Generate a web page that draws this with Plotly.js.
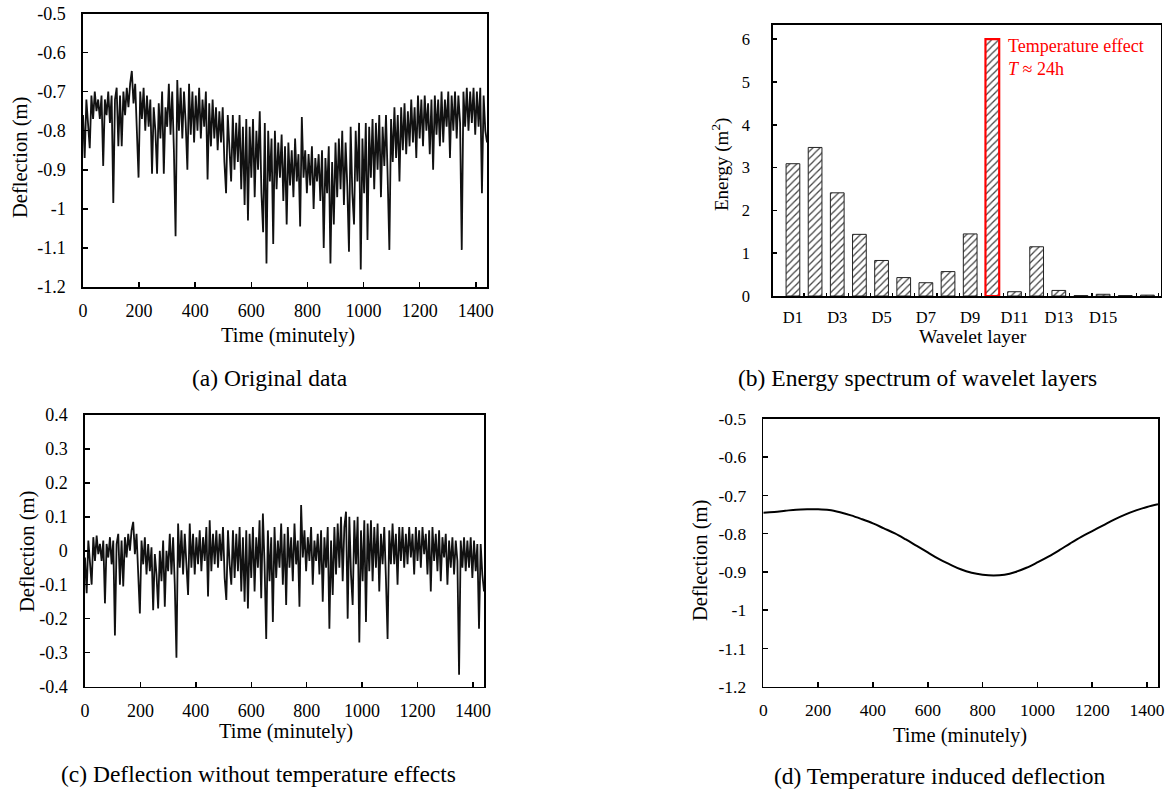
<!DOCTYPE html>
<html><head><meta charset="utf-8">
<script src="https://cdn.plot.ly/plotly-3.0.1.min.js"></script>
<style>html,body{margin:0;padding:0;background:#fff;}#chart{width:1172px;height:792px;}</style>
</head><body><div id="chart"></div>
<script>
// ---------- data ----------
const SAMPLE_STEP = 6; // minutes between plotted samples

// (a) original deflection (m), one value every SAMPLE_STEP minutes from 0 to 1440
const deflectionOriginal = [
-0.76,-0.87,-0.72,-0.78,-0.845,-0.71,-0.77,-0.70,-0.75,-0.72,
-0.77,-0.71,-0.89,-0.72,-0.76,-0.70,-0.78,-0.71,-0.985,-0.72,
-0.69,-0.84,-0.71,-0.84,-0.70,-0.76,-0.69,-0.74,-0.68,-0.647,
-0.73,-0.68,-0.78,-0.92,-0.70,-0.77,-0.69,-0.80,-0.71,-0.79,
-0.72,-0.91,-0.74,-0.80,-0.91,-0.73,-0.82,-0.70,-0.91,-0.74,
-0.79,-0.68,-0.81,-0.70,-0.85,-1.07,-0.67,-0.80,-0.69,-0.82,
-0.70,-0.78,-0.90,-0.68,-0.81,-0.70,-0.83,-0.71,-0.80,-0.69,
-0.82,-0.72,-0.79,-0.70,-0.925,-0.73,-0.84,-0.72,-0.82,-0.74,
-0.85,-0.75,-0.83,-0.74,-0.88,-0.96,-0.76,-0.86,-0.93,-0.76,
-0.90,-0.78,-0.88,-0.76,-0.95,-0.79,-0.99,-0.77,-1.03,-0.79,
-0.92,-0.77,-0.97,-0.80,-0.90,-0.75,-0.96,-1.06,-0.78,-1.14,
-0.80,-0.93,-0.82,-1.09,-0.80,-0.95,-0.83,-0.92,-0.81,-0.98,
-0.84,-1.04,-0.83,-0.94,-0.85,-0.97,-0.82,-0.93,-0.86,-1.045,
-0.765,-0.92,-0.85,-0.96,-0.86,-0.94,-0.84,-1.00,-0.87,-0.93,
-0.86,-0.98,-0.85,-1.10,-0.87,-0.96,-0.84,-1.14,-0.88,-1.04,
-0.83,-0.97,-0.82,-0.95,-0.80,-0.99,-0.83,-0.94,-1.11,-0.79,
-0.96,-1.04,-0.80,-0.93,-0.78,-1.155,-0.82,-0.96,-0.78,-1.08,
-0.79,-0.92,-0.77,-0.95,-0.78,-0.90,-0.76,-0.97,-0.79,-0.89,
-0.76,-0.92,-1.105,-0.77,-0.88,-0.74,-0.87,-0.76,-0.93,-0.74,
-0.85,-0.73,-0.86,-0.75,-0.84,-0.72,-0.83,-0.74,-0.87,-0.71,
-0.82,-0.72,-0.84,-0.71,-0.80,-0.73,-0.86,-0.72,-0.90,-0.71,
-0.81,-0.72,-0.84,-0.70,-0.83,-0.72,-0.79,-0.70,-0.87,-0.71,
-0.80,-0.70,-0.82,-0.71,-0.78,-1.105,-0.70,-0.79,-0.69,-0.80,
-0.70,-0.78,-0.69,-0.81,-0.70,-0.79,-0.69,-0.96,-0.71,-0.80,
-0.83
];

// (c) deflection without temperature effects (m), same sampling
const deflectionResidual = [
-0.02,-0.125,0.03,-0.04,-0.10,0.04,-0.03,0.045,-0.01,0.02,
-0.03,0.03,-0.155,0.02,-0.02,0.04,-0.04,0.03,-0.25,0.02,
0.05,-0.10,0.03,-0.105,0.04,-0.02,0.05,0.00,0.06,0.085,
-0.01,0.05,-0.05,-0.185,0.03,-0.04,0.04,-0.07,0.02,-0.06,
0.01,-0.175,-0.01,-0.07,-0.17,0.00,-0.09,0.03,-0.165,0.00,
-0.06,0.05,-0.07,0.04,-0.10,-0.315,0.08,-0.05,0.06,-0.07,
0.05,-0.03,-0.13,0.08,-0.05,0.05,-0.07,0.04,-0.04,0.06,
-0.06,0.04,-0.03,0.07,-0.135,0.09,-0.06,0.05,-0.04,0.06,
-0.05,0.05,-0.03,0.07,-0.08,-0.145,0.06,-0.04,-0.10,0.06,
-0.08,0.05,-0.06,0.07,-0.12,0.04,-0.15,0.06,-0.17,0.05,
-0.08,0.07,-0.12,0.04,-0.05,0.09,-0.14,0.11,-0.04,-0.26,
0.06,-0.09,0.04,-0.21,0.07,-0.08,0.03,-0.05,0.08,-0.10,
0.05,-0.16,0.07,-0.05,0.04,-0.09,0.08,-0.04,0.03,-0.165,
0.135,-0.02,0.06,-0.06,0.04,-0.03,0.07,-0.10,0.03,-0.03,
0.05,-0.07,0.06,-0.15,0.04,-0.05,0.07,-0.23,0.03,-0.13,
0.07,-0.07,0.08,-0.05,0.10,-0.09,0.07,0.115,-0.20,0.10,
-0.07,-0.16,0.09,-0.04,0.10,-0.27,0.06,-0.09,0.09,-0.21,
0.08,-0.06,0.09,-0.09,0.07,-0.05,0.08,-0.12,0.05,-0.04,
0.07,-0.08,-0.26,0.06,-0.04,0.08,-0.04,0.05,-0.10,0.07,
-0.03,0.07,-0.05,0.05,-0.04,0.07,-0.02,0.05,-0.07,0.07,
-0.03,0.06,-0.05,0.07,-0.01,0.05,-0.07,0.06,-0.12,0.07,
-0.03,0.05,-0.06,0.06,-0.09,0.04,-0.02,0.05,-0.10,0.03,
-0.05,0.04,-0.07,0.03,-0.03,-0.365,0.03,-0.05,0.04,-0.06,
0.03,-0.05,0.04,-0.08,0.03,-0.06,0.02,-0.23,0.02,-0.07,
-0.12
];

// (d) temperature induced deflection (m)
const tempTime = [0,40,80,120,160,200,240,280,320,360,400,440,480,520,560,600,640,680,720,760,800,840,880,920,960,1000,1040,1080,1120,1160,1200,1240,1280,1320,1360,1400,1440];
const tempDeflection = [-0.745,-0.743,-0.740,-0.737,-0.736,-0.736,-0.738,-0.744,-0.752,-0.762,-0.773,-0.786,-0.799,-0.815,-0.832,-0.849,-0.866,-0.880,-0.893,-0.902,-0.907,-0.909,-0.907,-0.900,-0.889,-0.875,-0.860,-0.843,-0.825,-0.808,-0.793,-0.778,-0.763,-0.750,-0.739,-0.730,-0.723];

// (b) energy spectrum of wavelet layers (m^2)
const layers = ['D1','D2','D3','D4','D5','D6','D7','D8','D9','D10','D11','D12','D13','D14','D15','D16','D17'];
const energy = [3.09,3.47,2.41,1.44,0.83,0.43,0.31,0.57,1.45,6.0,0.10,1.15,0.13,0.01,0.04,0.01,0.02];
const layerTickLabels = ['D1','D3','D5','D7','D9','D11','D13','D15'];
const highlightLayer = 'D10';

// tick labels
const timeTicks = [0,200,400,600,800,1000,1200,1400];
const timeTickText = ['0','200','400','600','800','1000','1200','1400'];
const deflTicks = [-1.2,-1.1,-1.0,-0.9,-0.8,-0.7,-0.6,-0.5];
const deflTickText = ['-1.2','-1.1','-1','-0.9','-0.8','-0.7','-0.6','-0.5'];
const residTicks = [-0.4,-0.3,-0.2,-0.1,0,0.1,0.2,0.3,0.4];
const residTickText = ['-0.4','-0.3','-0.2','-0.1','0','0.1','0.2','0.3','0.4'];
const energyTicks = [0,1,2,3,4,5,6];
const energyTickText = ['0','1','2','3','4','5','6'];

// ---------- layout helpers ----------
const W = 1172, H = 792;
const fx = p => p / W;
const fy = p => 1 - p / H;
const SERIF = '"Liberation Serif", "Times New Roman", serif';
const BLACK = '#000';

function baseAxis(extra) {
  return Object.assign({
    showline: true, linecolor: BLACK, linewidth: 1.6, mirror: true,
    showgrid: false, zeroline: false,
    ticks: 'inside', ticklen: 5, tickwidth: 1.5, tickcolor: BLACK,
    tickmode: 'array', tickangle: 0,
    tickfont: {family: SERIF, size: 18, color: BLACK}
  }, extra);
}

const timeA = deflectionOriginal.map((_, i) => i * SAMPLE_STEP);
const timeC = deflectionResidual.map((_, i) => i * SAMPLE_STEP);
const barRange = [-0.9, 16.59];
const boundaryTicks = layers.map((_, i) => i + 0.5);

const traces = [
  {x: timeA, y: deflectionOriginal, xaxis: 'x', yaxis: 'y', type: 'scatter', mode: 'lines',
   line: {color: '#111', width: 1.8}, hoverinfo: 'skip'},
  {x: layers, y: energy, xaxis: 'x2', yaxis: 'y2', type: 'bar', width: 0.62,
   marker: {color: '#fff',
     line: {color: layers.map(l => l === highlightLayer ? '#ff0000' : '#222'),
            width: layers.map(l => l === highlightLayer ? 2.2 : 1)},
     pattern: {shape: '/', fgcolor: '#444', bgcolor: '#fff', size: 5, solidity: 0.25}},
   hoverinfo: 'skip'},
  {x: timeC, y: deflectionResidual, xaxis: 'x3', yaxis: 'y3', type: 'scatter', mode: 'lines',
   line: {color: '#111', width: 1.8}, hoverinfo: 'skip'},
  {x: tempTime, y: tempDeflection, xaxis: 'x4', yaxis: 'y4', type: 'scatter', mode: 'lines',
   line: {color: BLACK, width: 2, shape: 'spline'}, hoverinfo: 'skip'},
  // carrier for the between-category tick marks of panel (b)
  {x: [], y: [], xaxis: 'x5', yaxis: 'y2', type: 'scatter', mode: 'lines', hoverinfo: 'skip'}
];

function txt(text, px, py, size, opts) {
  return Object.assign({text, x: fx(px), y: fy(py), xref: 'paper', yref: 'paper',
    xanchor: 'center', yanchor: 'middle', showarrow: false,
    font: {family: SERIF, size, color: BLACK}}, opts || {});
}

const layout = {
  width: W, height: H,
  margin: {l: 0, r: 0, t: 0, b: 0},
  paper_bgcolor: '#fff', plot_bgcolor: '#fff',
  showlegend: false,
  font: {family: SERIF, color: BLACK},
  // (a)
  xaxis: baseAxis({domain: [fx(83), fx(487)], anchor: 'y', range: [0, 1440],
    tickvals: timeTicks, ticktext: timeTickText, ticklabelstandoff: 7}),
  yaxis: baseAxis({domain: [fy(287), fy(13.5)], anchor: 'x', range: [-1.2, -0.5],
    tickvals: deflTicks, ticktext: deflTickText, ticklabelstandoff: 12}),
  // (b)
  xaxis2: baseAxis({domain: [fx(773), fx(1160.5)], anchor: 'y2', type: 'category',
    range: barRange, tickvals: layerTickLabels, ticktext: layerTickLabels, ticks: '',
    tickfont: {family: SERIF, size: 16.5, color: BLACK}, ticklabelstandoff: 6}),
  xaxis5: {overlaying: 'x2', anchor: 'y2', domain: [fx(773), fx(1160.5)], range: barRange,
    type: 'linear', tickmode: 'array', tickvals: boundaryTicks, ticks: 'inside', ticklen: 3,
    tickwidth: 1.2, tickcolor: BLACK, showticklabels: false, showline: false,
    showgrid: false, zeroline: false},
  yaxis2: baseAxis({domain: [fy(296), fy(25)], anchor: 'x2', range: [0, 6.33],
    tickvals: energyTicks, ticktext: energyTickText, ticklen: 4,
    tickfont: {family: SERIF, size: 16.5, color: BLACK}, ticklabelstandoff: 18}),
  // (c)
  xaxis3: baseAxis({domain: [fx(85), fx(484)], anchor: 'y3', range: [0, 1440],
    tickvals: timeTicks, ticktext: timeTickText, ticklabelstandoff: 7}),
  yaxis3: baseAxis({domain: [fy(686.5), fy(415)], anchor: 'x3', range: [-0.4, 0.4],
    tickvals: residTicks, ticktext: residTickText, ticklabelstandoff: 12}),
  // (d)
  xaxis4: baseAxis({domain: [fx(763.3), fx(1158)], anchor: 'y4', range: [0, 1440],
    tickvals: timeTicks, ticktext: timeTickText, ticklabelstandoff: 7,
    tickfont: {family: SERIF, size: 17.5, color: BLACK}}),
  yaxis4: baseAxis({domain: [fy(686.7), fy(419)], anchor: 'x4', range: [-1.2, -0.5],
    tickvals: deflTicks, ticktext: deflTickText, ticklabelstandoff: 12,
    tickfont: {family: SERIF, size: 17.5, color: BLACK}}),
  annotations: [
    // axis titles
    txt('Deflection (m)', 20, 158, 20.5, {textangle: -90}),
    txt('Time (minutely)', 287.5, 335, 20.5),
    txt('Energy (m<sup>2</sup>)', 720, 165, 19, {textangle: -90}),
    txt('Wavelet layer', 972.5, 336, 19.5),
    txt('Deflection (m)', 27, 552, 20.5, {textangle: -90}),
    txt('Time (minutely)', 286, 731, 20.5),
    txt('Deflection (m)', 700, 561, 20.5, {textangle: -90}),
    txt('Time (minutely)', 960, 735, 20.5),
    // captions
    txt('(a) Original data', 270, 378, 23.5),
    txt('(b) Energy spectrum of wavelet layers', 917, 378, 23.5),
    txt('(c) Deflection without temperature effects', 258, 774, 23.5),
    txt('(d) Temperature induced deflection', 940, 776, 23.5),
    // highlight note
    txt('Temperature effect<br><i>T</i> ≈ 24h', 1006, 34, 18,
      {xanchor: 'left', yanchor: 'top', align: 'left', font: {family: SERIF, size: 18, color: '#ff0000'}})
  ]
};

Plotly.newPlot('chart', traces, layout, {displayModeBar: false, staticPlot: true});
</script>
</body></html>
